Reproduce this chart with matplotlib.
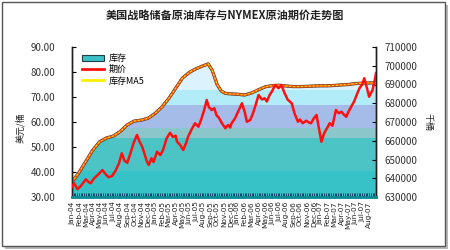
import numpy as np
import matplotlib
matplotlib.use('Agg')
import matplotlib.pyplot as plt
from matplotlib.colors import to_rgb
from matplotlib.patches import Rectangle, Patch
from matplotlib.lines import Line2D

plt.rcParams['font.family'] = ['Noto Sans CJK SC', 'DejaVu Sans']

title = '美国战略储备原油库存与NYMEX原油期价走势图'
months = ['Jan-04', 'Feb-04', 'Mar-04', 'Apr-04', 'May-04', 'Jun-04', 'Jul-04', 'Aug-04',
          'Sep-04', 'Oct-04', 'Nov-04', 'Dec-04', 'Jan-05', 'Feb-05', 'Mar-05', 'Apr-05',
          'May-05', 'Jun-05', 'Jul-05', 'Aug-05', 'Sep-05', 'Oct-05', 'Nov-05', 'Dec-05',
          'Jan-06', 'Feb-06', 'Mar-06', 'Apr-06', 'May-06', 'Jun-06', 'Jul-06', 'Aug-06',
          'Sep-06', 'Oct-06', 'Nov-06', 'Dec-06', 'Jan-07', 'Feb-07', 'Mar-07', 'Apr-07',
          'May-07', 'Jun-07', 'Jul-07', 'Aug-07']

# inventory (thousand barrels), monthly positions
inv_x = [0, 1, 2, 3, 4, 5, 6, 7, 8, 9, 10, 11, 12, 13, 14, 15, 16, 17, 18, 19, 19.7,
         20.3, 21, 21.6, 22.2, 23, 24, 25, 26, 27, 28, 29, 30, 31, 32, 33, 34, 35, 36,
         37, 38, 39, 40, 41, 42, 43, 44]
inventory = [638000, 643000, 649000, 655000, 659500, 661500, 662500, 665000, 668500,
             670500, 671000, 672000, 674500, 678000, 682500, 688000, 693500, 696500,
             698500, 700000, 701000, 697500, 690000, 686500, 685300, 685000, 684800,
             684400, 685500, 687200, 688800, 689400, 689600, 689200, 688900, 688900,
             689000, 689200, 689300, 689300, 689500, 689800, 690000, 690500, 690700,
             690800, 691000]
inventory_ma5 = inventory

# NYMEX crude price (USD/bbl)
price_x = [0.0, 0.3, 0.8, 1.3, 2.0, 2.4, 2.7, 3.2, 3.8, 4.4, 4.9, 5.3, 5.8, 6.3, 6.8,
           7.2, 7.6, 8.0, 8.4, 8.9, 9.4, 9.8, 10.1, 10.4, 10.8, 11.1, 11.5, 11.8, 12.3,
           12.8, 13.2, 13.7, 14.2, 14.6, 15.0, 15.2, 15.6, 16.1, 16.5, 16.8, 17.3, 17.8,
           18.3, 18.7, 19.1, 19.5, 19.8, 20.2, 20.6, 20.9, 21.3, 21.7, 22.2, 22.6, 22.9,
           23.1, 23.6, 24.1, 24.6, 25.0, 25.3, 25.8, 26.2, 26.6, 27.0, 27.5, 27.9, 28.2,
           28.6, 29.0, 29.4, 29.9, 30.3, 30.7, 31.2, 31.8, 32.2, 32.7, 33.0, 33.4, 33.9,
           34.3, 34.6, 35.0, 35.4, 35.7, 36.1, 36.5, 36.9, 37.3, 37.7, 38.2, 38.6, 39.0,
           39.4, 39.7, 40.0, 40.4, 40.8, 41.1, 41.6, 42.0, 42.3, 42.7, 43.0, 43.5, 43.8,
           44.0]
price = [34.1, 35.5, 33.1, 34.5, 37.1, 36.0, 35.5, 37.5, 39.0, 40.8, 39.0, 37.9, 38.4,
         40.5, 43.5, 47.5, 44.5, 43.7, 47.0, 51.5, 54.8, 52.0, 50.5, 48.1, 44.5, 42.8,
         45.5, 44.0, 48.1, 46.8, 49.0, 53.5, 55.7, 54.0, 54.5, 52.1, 51.0, 48.8, 51.5,
         54.1, 57.0, 59.5, 58.1, 61.0, 64.5, 68.8, 66.0, 64.8, 65.5, 62.8, 61.5, 59.5,
         57.5, 58.8, 57.8, 59.5, 61.5, 64.5, 67.5, 64.0, 60.1, 60.8, 63.5, 67.0, 70.8,
         69.0, 69.5, 68.2, 70.8, 72.5, 74.8, 73.5, 74.8, 72.0, 69.0, 67.5, 63.5, 60.1,
         61.0, 59.5, 60.5, 59.8, 59.5, 61.5, 62.8, 58.0, 52.1, 55.5, 57.5, 59.5, 58.5,
         64.8, 63.5, 64.1, 62.8, 62.1, 64.0, 66.1, 68.0, 70.1, 73.5, 75.0, 77.5, 73.5,
         70.1, 72.8, 76.5, 79.5]

fig = plt.figure(figsize=(4.5, 2.5), dpi=100)
fig.patch.set_facecolor('white')
# outer frame with shadow
fig.patches.append(Rectangle((5 / 450, 1 / 250), 443 / 450, 244 / 250, transform=fig.transFigure,
                             facecolor='#b8b8b8', edgecolor='none', zorder=-3))
fig.patches.append(Rectangle((2 / 450, 4 / 250), 443 / 450, 244 / 250, transform=fig.transFigure,
                             facecolor='white', edgecolor='#555555', linewidth=1, zorder=-2))

ax = fig.add_axes([72 / 450, 53 / 250, 304 / 450, 150 / 250])
ax2 = ax.twinx()
ax.set_zorder(2)
ax.patch.set_visible(False)
ax2.patch.set_visible(False)

# gradient-filled inventory area
ymin, ymax = 630000, 710000
vals = np.linspace(ymin, ymax, 400)
bands = [(644000, '#36c2c6'), (661500, '#4cc4c6'), (666800, '#8ac6ca'),
         (679000, '#a6bce8'), (687000, '#b2ecf8'), (1e9, '#dcf2fc')]
img = np.zeros((len(vals), 1, 3))
for i, v in enumerate(vals):
    for lim, c in bands:
        if v < lim:
            img[i, 0] = to_rgb(c)
            break
poly = ax2.fill_between(inv_x, ymin, inventory, facecolor='none', edgecolor='none')
im = ax2.imshow(img, extent=[0, 44, ymin, ymax], origin='lower', aspect='auto', zorder=1,
                interpolation='nearest')
im.set_clip_path(poly.get_paths()[0], transform=ax2.transData)
ax2.plot(inv_x, inventory, color='#303030', lw=2.3, zorder=2)
ax2.plot(inv_x, inventory_ma5, color='#ff5a10', lw=1.7, zorder=3)
ax2.plot(inv_x, inventory_ma5, color='#ffee00', lw=0.7, dashes=(2, 2), zorder=4)

ax.plot(price_x, price, color='#ff1010', lw=1.8, zorder=5)

ax.set_xlim(0, 44)
ax2.set_xlim(0, 44)
ax.set_ylim(30, 90)
ax2.set_ylim(ymin, ymax)
ax.set_yticks(np.arange(30, 91, 10))
ax.set_yticklabels(['%.2f' % v for v in np.arange(30, 91, 10)])
ax2.set_yticks(np.arange(630000, 710001, 10000))
ax2.set_yticklabels(['%d' % v for v in np.arange(630000, 710001, 10000)])

ax.set_xticks(range(len(months)))
ax.set_xticklabels(months, rotation=90, fontsize=5.3, family='DejaVu Sans', color='#222222')
ax.set_xticks(np.arange(0, 44, 0.25), minor=True)
ax.tick_params(axis='x', which='both', direction='in', length=3, color='#103060', width=0.6, pad=3)
ax.tick_params(axis='y', direction='in', length=3, labelsize=7, labelcolor='#333333', pad=12)
ax2.tick_params(axis='y', direction='in', length=3, labelsize=7, labelcolor='#333333', pad=6)

for a in (ax, ax2):
    a.spines['top'].set_visible(False)
    for s in ('left', 'right', 'bottom'):
        a.spines[s].set_color('#222222')
        a.spines[s].set_linewidth(1)
ax.spines['bottom'].set_color('#0a8c94')
ax.spines['bottom'].set_linewidth(2)

fig.text(20 / 450, 1 - 128 / 250, '美元/桶', rotation=90, ha='center', va='center', fontsize=6.5,
         color='#222222')
fig.text(428 / 450, 1 - 122 / 250, '千桶', rotation=270, ha='center', va='center', fontsize=6.5,
         color='#222222')
fig.text(0.5, 1 - 15 / 250, title, ha='center', va='center', fontsize=8, fontweight='bold',
         color='#222222')

handles = [Patch(facecolor='#3cc0c8', edgecolor='#204048', linewidth=0.8),
           Line2D([], [], color='#ff1010', lw=2),
           Line2D([], [], color='#ffee00', lw=2)]
ax.legend(handles, ['库存', '期价', '库存MA5'], loc='upper left', bbox_to_anchor=(0.015, 0.99),
          frameon=False, fontsize=6.5, handlelength=2.4, handleheight=0.6, labelspacing=0.25,
          handletextpad=0.6, borderaxespad=0.2)

fig.savefig('out.png', dpi=100)
